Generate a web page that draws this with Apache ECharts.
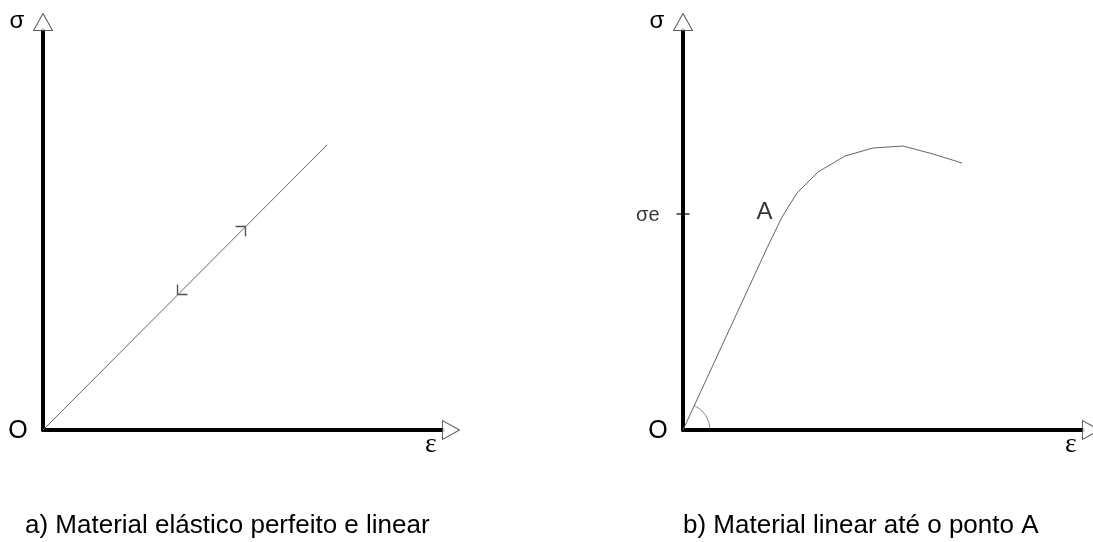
<!DOCTYPE html>
<html>
<head>
<meta charset="utf-8">
<script src="https://cdn.jsdelivr.net/npm/echarts@6/dist/echarts.min.js"></script>
<style>
html, body { margin: 0; padding: 0; background: #fff; }
#main { width: 1093px; height: 542px; }
</style>
</head>
<body>
<div id="main"></div>
<script>

// dados (escala 0..100 nos dois eixos)

// a) material elastico perfeito e linear
var elasticX = [0, 71];
var elasticY = [0, 71.25];
var loadArrow = [50, 50.25];     // seta de carga (sobe)
var unloadArrow = [34.25, 34.5]; // seta de descarga (desce)

// b) material linear ate o ponto A
var curveX = [0, 21, 24.75, 28.5, 33.75, 40.5, 47.5, 55, 62.5, 69.75];
var curveY = [0, 45.5, 53.25, 59.25, 64.5, 68.5, 70.5, 71, 69, 66.75];
var sigmaE = 54;
var pointA = [25, 54];

var axisMax = 100;

var captions = ['a) Material elástico perfeito e linear', 'b) Material linear até o ponto A'];
var yNames = ['σ', 'σ'];
var xNames = ['ε', 'ε'];
var originName = 'O';

function zip(xs, ys) {
    var out = [];
    for (var i = 0; i < xs.length; i++) {
        out.push([xs[i], ys[i]]);
    }
    return out;
}

var chart = echarts.init(document.getElementById('main'), null, { renderer: 'canvas' });

var font = '"Liberation Sans", Arial, sans-serif';

function makeAxis(idx) {
    return {
        type: 'value',
        gridIndex: idx,
        min: 0,
        max: axisMax,
        axisLine: { show: true, lineStyle: { color: '#000', width: 4 } },
        axisTick: { show: false },
        axisLabel: { show: false },
        splitLine: { show: false }
    };
}

// cabecas de seta vazadas nas pontas dos eixos
function axisHeads(idx) {
    return {
        type: 'scatter',
        xAxisIndex: idx,
        yAxisIndex: idx,
        clip: false,
        silent: true,
        z: 5,
        symbol: 'triangle',
        symbolSize: [19, 17],
        itemStyle: { color: '#fff', borderColor: '#333', borderWidth: 1 },
        data: [
            { value: [0, axisMax], symbolOffset: [0, -8] },
            { value: [axisMax, 0], symbolRotate: -90, symbolOffset: [8, 0] }
        ]
    };
}

var chevron = 'path://M0,7 L7,0 L14,7';

var option = {
    backgroundColor: '#fff',
    animation: false,
    grid: [
        { left: 43, top: 30, width: 400, height: 400 },
        { left: 683, top: 30, width: 400, height: 400 }
    ],
    xAxis: [makeAxis(0), makeAxis(1)],
    yAxis: [makeAxis(0), makeAxis(1)],
    series: [
        {
            type: 'line',
            xAxisIndex: 0,
            yAxisIndex: 0,
            symbol: 'none',
            silent: true,
            lineStyle: { color: '#666', width: 1 },
            data: zip(elasticX, elasticY)
        },
        {
            type: 'scatter',
            xAxisIndex: 0,
            yAxisIndex: 0,
            silent: true,
            symbol: chevron,
            symbolSize: [14, 7],
            itemStyle: { color: 'none', borderColor: '#222', borderWidth: 1.2 },
            data: [
                { value: loadArrow, symbolRotate: -45 },
                { value: unloadArrow, symbolRotate: 135 }
            ]
        },
        axisHeads(0),
        {
            type: 'line',
            xAxisIndex: 1,
            yAxisIndex: 1,
            symbol: 'none',
            silent: true,
            lineStyle: { color: '#666', width: 1 },
            data: zip(curveX, curveY)
        },
        {
            // marca de sigma_e no eixo
            type: 'scatter',
            xAxisIndex: 1,
            yAxisIndex: 1,
            clip: false,
            silent: true,
            z: 6,
            symbol: 'rect',
            symbolSize: [13, 1.5],
            itemStyle: { color: '#000' },
            label: {
                show: true,
                position: 'left',
                distance: 17,
                formatter: 'σe',
                fontFamily: font,
                fontSize: 20,
                color: '#000',
                offset: [0, 1]
            },
            data: [[0, sigmaE]]
        },
        {
            type: 'scatter',
            xAxisIndex: 1,
            yAxisIndex: 1,
            silent: true,
            symbol: 'circle',
            symbolSize: 1,
            itemStyle: { color: 'rgba(0,0,0,0)' },
            label: {
                show: true,
                position: 'left',
                distance: 10,
                formatter: 'A',
                fontFamily: font,
                fontSize: 24,
                color: '#000',
                offset: [0, -2]
            },
            data: [pointA]
        },
        axisHeads(1)
    ]
};

chart.setOption(option);

// textos e arco do angulo, posicionados a partir dos eixos
function placeTexts() {
    var els = [];
    for (var g = 0; g < 2; g++) {
        var o = chart.convertToPixel({ gridIndex: g }, [0, 0]);
        var top = chart.convertToPixel({ gridIndex: g }, [0, axisMax]);
        var right = chart.convertToPixel({ gridIndex: g }, [axisMax, 0]);
        els.push({
            type: 'text', silent: true,
            style: { text: yNames[g], x: top[0] - 26, y: top[1] - 9, font: '24px ' + font, fill: '#000', textAlign: 'center', textVerticalAlign: 'middle' }
        });
        els.push({
            type: 'text', silent: true,
            style: { text: originName, x: o[0] - 25, y: o[1] + 1, font: '25px ' + font, fill: '#000', textAlign: 'center', textVerticalAlign: 'middle' }
        });
        els.push({
            type: 'text', silent: true,
            style: { text: xNames[g], x: right[0] - 12, y: o[1] + 15, font: '28px "Liberation Serif", serif', fill: '#000', textAlign: 'center', textVerticalAlign: 'middle' }
        });
        els.push({
            type: 'text', silent: true,
            style: { text: captions[g], x: o[0] - (g === 0 ? 18 : 0), y: 526, font: '26px ' + font, fill: '#000', textAlign: 'left', textVerticalAlign: 'middle' }
        });
    }
    // arco entre o eixo e o trecho linear
    var o1 = chart.convertToPixel({ gridIndex: 1 }, [0, 0]);
    var p1 = chart.convertToPixel({ gridIndex: 1 }, [curveX[1], curveY[1]]);
    var ang = Math.atan2(p1[1] - o1[1], p1[0] - o1[0]);
    els.push({
        type: 'arc', silent: true,
        shape: { cx: o1[0], cy: o1[1], r: 27, startAngle: ang, endAngle: 0 },
        style: { stroke: '#888', lineWidth: 1, fill: null }
    });
    chart.setOption({ graphic: { elements: els } });
}

placeTexts();

</script>
</body>
</html>
